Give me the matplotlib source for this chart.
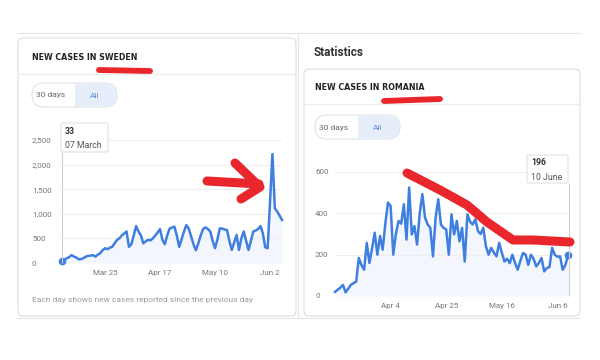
import matplotlib
matplotlib.use("Agg")
import matplotlib.pyplot as plt
from matplotlib.patches import FancyBboxPatch, Rectangle
from matplotlib.lines import Line2D
from matplotlib.transforms import Affine2D
import pandas as pd

# ---------------- data ----------------
sweden_start = "2020-03-07"
sweden_cases = [
    33, 60, 95, 120, 160, 130, 110,
    75, 80, 100, 130, 145, 150, 160,
    130, 170, 200, 260, 300, 280, 310,
    330, 400, 470, 500, 560, 600, 640,
    330, 380, 560, 750, 640, 560, 400,
    440, 470, 460, 500, 560, 620, 690,
    470, 380, 560, 700, 720, 740, 560,
    330, 480, 640, 770, 700, 540, 380,
    260, 400, 560, 690, 725, 690, 640,
    450, 300, 480, 705, 700, 680, 670,
    450, 265, 420, 570, 265, 500, 640,
    450, 265, 450, 640, 660, 690, 750,
    600, 320, 300, 1250, 2214, 1110, 1045,
    960, 875,
]
sweden_ticks = ["2020-03-25", "2020-04-17", "2020-05-10", "2020-06-02"]
sweden_ticklabels = ["Mar 25", "Apr 17", "May 10", "Jun 2"]
sweden_yticks = [0, 500, 1000, 1500, 2000, 2500]
sweden_yticklabels = ["0", "500", "1,000", "1,500", "2,000", "2,500"]

romania_start = "2020-03-14"
romania_cases = [
    20, 30, 40, 54, 18, 35, 54, 62, 70, 184,
    150, 127, 257, 160, 230, 306, 200, 290, 224, 350,
    452, 436, 200, 300, 363, 350, 444, 273, 525, 298,
    338, 249, 400, 493, 379, 346, 330, 192, 380, 468,
    346, 330, 322, 200, 395, 298, 363, 265, 330, 167,
    395, 360, 346, 371, 314, 300, 330, 241, 200, 233,
    210, 192, 257, 210, 167, 180, 159, 200, 160, 127,
    170, 208, 200, 151, 200, 180, 143, 160, 184, 119,
    135, 140, 233, 200, 190, 192, 127, 150, 196,
]
romania_ticks = ["2020-04-04", "2020-04-25", "2020-05-16", "2020-06-06"]
romania_ticklabels = ["Apr 4", "Apr 25", "May 16", "Jun 6"]
romania_yticks = [0, 200, 400, 600]
romania_yticklabels = ["0", "200", "400", "600"]

# ---------------- style ----------------
W, H = 600, 360
FONT = "Roboto"
plt.rcParams["font.family"] = [FONT, "DejaVu Sans"]
BLUE = "#3f7fe0"
RED = "#e8262b"
GRID = "#eeeeee"
BORDER = "#dddddd"
TICKC = "#777777"

fig = plt.figure(figsize=(W / 100, H / 100), dpi=100)
fig.patch.set_facecolor("white")
PX = Affine2D().scale(1 / W, -1 / H).translate(0, 1) + fig.transFigure


def ax_rect(x0, x1, ytop, ybot):
    return [x0 / W, 1 - ybot / H, (x1 - x0) / W, (ybot - ytop) / H]


def box(x, y, w, h, fc="white", ec=BORDER, r=4, lw=0.8, z=0):
    p = FancyBboxPatch((x, y), w, h, boxstyle=f"round,pad=0,rounding_size={r}",
                       transform=PX, fc=fc, ec=ec, lw=lw, zorder=z)
    fig.add_artist(p)
    return p


def line(xs, ys, color, lw, z=5, cap="round"):
    l = Line2D(xs, ys, transform=PX, color=color, lw=lw, zorder=z,
               solid_capstyle=cap, solid_joinstyle="round")
    fig.add_artist(l)


def text(x, y, s, **kw):
    fig.text(x / W, 1 - y / H, s, **kw)


TITLE_KW = dict(fontsize=5.7, fontweight="bold", color="#222222", va="center",
                ha="left", family=["DejaVu Sans"])

# page frame lines
line([17, 580], [33, 33], "#e4e4e4", 0.8, z=0)
line([298, 298], [33, 318], "#e4e4e4", 0.8, z=0)
line([17, 580], [318, 318], "#e4e4e4", 0.8, z=0)

# ---------- left card ----------
box(18, 38, 278, 278, r=5)
line([18, 296], [74, 74], "#ececec", 0.8, z=1)
text(32, 57, "NEW CASES IN SWEDEN", **TITLE_KW)
# toggle
box(32, 83, 85, 24, fc="white", ec="#e2e2e2", r=12, z=1)
box(75, 83.5, 41.5, 23, fc="#e6eefb", ec="none", r=11, z=1)
fig.add_artist(Rectangle((75, 83.5), 12, 23, transform=PX, fc="#e6eefb", ec="none", zorder=1))
text(51, 95.5, "30 days", fontsize=6, color="#666666", va="center", ha="center")
text(95, 95.5, "All", fontsize=6, color="#5b8fd6", va="center", ha="center")
text(32, 300, "Each day shows new cases reported since the previous day",
     fontsize=6, color="#9a9a9a", va="center", ha="left")

# ---------- right card ----------
text(314, 53, "Statistics", fontsize=8.5, fontweight="bold", color="#333333",
     va="center", ha="left")
box(304, 69, 276, 247, r=5)
line([304, 580], [104, 104], "#ececec", 0.8, z=1)
text(315, 88, "NEW CASES IN ROMANIA", **TITLE_KW)
box(315, 115, 85, 24, fc="white", ec="#e2e2e2", r=12, z=1)
box(358, 115.5, 41.5, 23, fc="#e6eefb", ec="none", r=11, z=1)
fig.add_artist(Rectangle((358, 115.5), 12, 23, transform=PX, fc="#e6eefb", ec="none", zorder=1))
text(334, 127.5, "30 days", fontsize=6, color="#666666", va="center", ha="center")
text(378, 127.5, "All", fontsize=6, color="#5b8fd6", va="center", ha="center")


def draw_chart(rect, start, values, ylim, yticks, ylabels, xticks, xlabels, ypad_px,
               dot_index):
    ax = fig.add_axes(rect)
    ax.set_facecolor("none")
    dates = pd.date_range(start, periods=len(values), freq="D")
    ax.fill_between(dates, values, 0, color=BLUE, alpha=0.06, lw=0, zorder=1)
    ax.plot(dates, values, color=BLUE, lw=1.8, zorder=3, clip_on=False,
            solid_joinstyle="round")
    ax.plot([dates[dot_index]], [values[dot_index]], "o", color=BLUE, ms=4.5,
            zorder=4, clip_on=False)
    ax.set_xlim(dates[0], dates[-1])
    ax.set_ylim(*ylim)
    ax.set_yticks(yticks)
    ax.set_yticklabels(ylabels)
    ax.set_xticks(pd.to_datetime(xticks))
    ax.set_xticklabels(xlabels)
    for s in ax.spines.values():
        s.set_visible(False)
    ax.grid(axis="y", color=GRID, lw=0.7, zorder=0)
    ax.tick_params(axis="both", length=0, labelsize=5.8, labelcolor=TICKC)
    ax.tick_params(axis="y", pad=ypad_px * 0.72)
    ax.tick_params(axis="x", pad=5)
    for lab in ax.get_yticklabels():
        lab.set_ha("left")
    return ax, dates


axL, datesL = draw_chart(ax_rect(62, 282, 140, 263), sweden_start, sweden_cases,
                         (0, 2500), sweden_yticks, sweden_yticklabels,
                         sweden_ticks, sweden_ticklabels, 30, 0)
axR, datesR = draw_chart(ax_rect(335, 568, 172, 296), romania_start, romania_cases,
                         (0, 600), romania_yticks, romania_yticklabels,
                         romania_ticks, romania_ticklabels, 20, len(romania_cases) - 1)

# hover lines + tooltips
line([62, 62], [152, 263], "#cfcfcf", 0.8, z=2, cap="butt")
box(61, 123, 47, 29, fc="white", ec="#e0e0e0", r=2, z=6)
text(65, 131, f"{sweden_cases[0]}", fontsize=6.3, fontweight="bold", color="#333333",
     va="center", ha="left", zorder=7)
text(65, 145, "07 March", fontsize=6.3, color="#555555", va="center", ha="left", zorder=7)

line([569, 569], [183, 296], "#cfcfcf", 0.8, z=2, cap="butt")
box(527, 155, 41, 28, fc="white", ec="#e0e0e0", r=2, z=6)
text(531, 163, f"{romania_cases[-1]}", fontsize=6.3, fontweight="bold", color="#333333",
     va="center", ha="left", zorder=7)
text(531, 177, "10 June", fontsize=6.3, color="#555555", va="center", ha="left", zorder=7)

# red hand-drawn annotations
line([99, 150], [70, 71], RED, 4.2, z=8)
line([384, 440], [101, 99], RED, 4.2, z=8)
line([207, 259], [181, 184], RED, 6.5, z=8)
line([235, 260, 241], [163, 187, 199], RED, 6.5, z=8)
line([407, 440, 467, 487, 513, 533, 570], [173, 190, 205, 222, 240, 240, 242], RED, 6.5, z=8)

fig.savefig("out.png", dpi=100, facecolor="white")
